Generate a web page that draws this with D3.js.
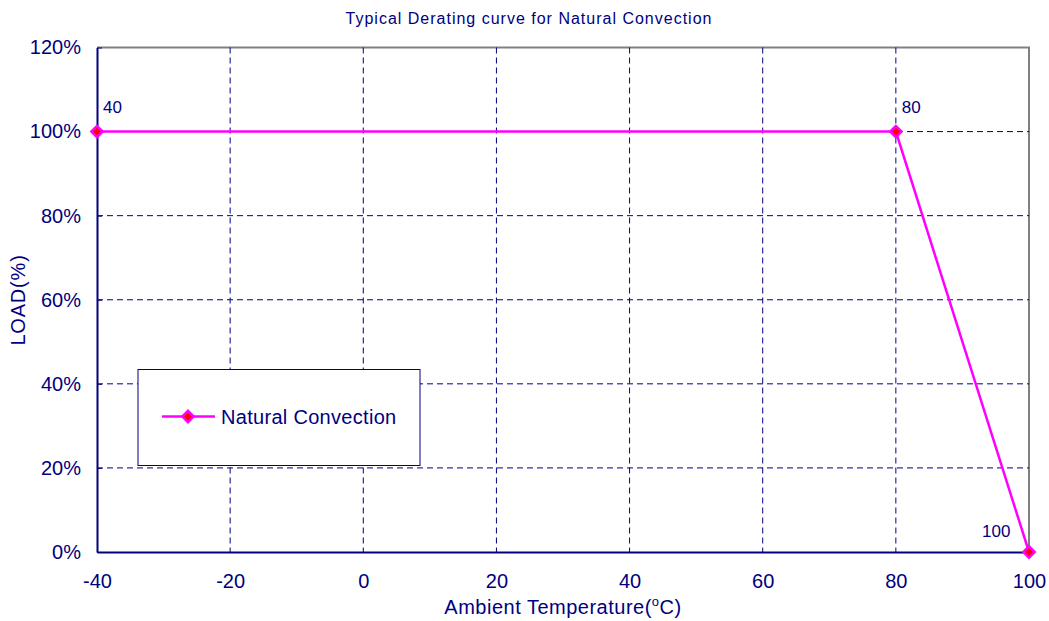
<!DOCTYPE html>
<html>
<head>
<meta charset="utf-8">
<script src="https://cdn.jsdelivr.net/npm/d3@7"></script>
<style>
  body { margin: 0; background: #fff; }
  text { font-family: "Liberation Sans", Arial, sans-serif; fill: #000080; }
</style>
</head>
<body>
<div id="chart"></div>
<script>
// data
const temps = [-40, 80, 100];
const loads = [100, 100, 0];
const pointLabels = ['40', '80', '100'];
const xTicks = [-40, -20, 0, 20, 40, 60, 80, 100];
const yTicks = [0, 20, 40, 60, 80, 100, 120];
const seriesName = 'Natural Convection';

const width = 1049, height = 621;
const margin = { top: 47.5, right: 20, bottom: 69, left: 97 };

const svg = d3.select('#chart').append('svg')
  .attr('width', width)
  .attr('height', height);

const x = d3.scaleLinear().domain([-40, 100]).range([margin.left, width - margin.right]);
const y = d3.scaleLinear().domain([0, 120]).range([height - margin.bottom, margin.top]);

// frame: top/right grey
svg.append('path')
  .attr('d', `M${x(-40)},${y(120)}H${x(100)}V${y(0)}`)
  .attr('fill', 'none')
  .attr('stroke', '#808080')
  .attr('stroke-width', 2);

// grid lines
const grid = svg.append('g').attr('class', 'grid');
grid.selectAll('.vg').data(xTicks.slice(1, -1)).join('line')
  .attr('x1', d => x(d)).attr('x2', d => x(d))
  .attr('y1', y(120)).attr('y2', y(0))
  .attr('stroke', '#000080').attr('stroke-width', 1)
  .attr('stroke-dasharray', '6,4');
grid.selectAll('.hg').data(yTicks.slice(1, -1)).join('line')
  .attr('x1', x(-40)).attr('x2', x(100))
  .attr('y1', d => y(d)).attr('y2', d => y(d))
  .attr('stroke', '#000080').attr('stroke-width', 1)
  .attr('stroke-dasharray', '6,4');

// axes
const xAxis = svg.append('g')
  .attr('transform', `translate(0,${y(0)})`)
  .call(d3.axisBottom(x).tickValues(xTicks).tickSize(0).tickPadding(22).tickFormat(d => String(d)));
const yAxis = svg.append('g')
  .attr('transform', `translate(${x(-40)},0)`)
  .call(d3.axisLeft(y).tickValues(yTicks).tickSize(0).tickPadding(16).tickFormat(d => d + '%'));
[xAxis, yAxis].forEach(a => {
  a.select('.domain').attr('stroke', '#000080').attr('stroke-width', 2);
  a.selectAll('text')
    .attr('font-size', 20)
    .attr('font-family', '"Liberation Sans", Arial, sans-serif')
    .attr('fill', '#000080');
});

// small tick marks on the left axis
yAxis.selectAll('.tick').append('line')
  .attr('x1', 0).attr('x2', 5).attr('stroke', '#000080').attr('stroke-width', 1);

// series line
const line = d3.line().x((d, i) => x(temps[i])).y(d => y(d));
svg.append('path')
  .datum(loads)
  .attr('d', line)
  .attr('fill', 'none')
  .attr('stroke', '#FF00FF')
  .attr('stroke-width', 2.5);

// markers (square turned 45 degrees)
const diamond = d3.symbol().type(d3.symbolSquare).size(64);
svg.selectAll('.marker').data(loads).join('path')
  .attr('class', 'marker')
  .attr('transform', (d, i) => `translate(${x(temps[i])},${y(d)}) rotate(45)`)
  .attr('d', diamond)
  .attr('fill', '#FF0000')
  .attr('stroke', '#FF00FF')
  .attr('stroke-width', 2.5);

// data labels
const labelOffsets = [[6, -19], [6, -19], [-47, -15]];
svg.selectAll('.plabel').data(pointLabels).join('text')
  .attr('x', (d, i) => x(temps[i]) + labelOffsets[i][0])
  .attr('y', (d, i) => y(loads[i]) + labelOffsets[i][1])
  .attr('font-size', 17)
  .text(d => d);

// title
svg.append('text')
  .attr('x', 529).attr('y', 24)
  .attr('text-anchor', 'middle')
  .attr('font-size', 16)
  .attr('letter-spacing', 1)
  .text('Typical Derating curve for Natural Convection');

// axis titles
const xt = svg.append('text')
  .attr('x', 563).attr('y', 614)
  .attr('text-anchor', 'middle')
  .attr('font-size', 20)
  .attr('letter-spacing', 0.5);
xt.append('tspan').text('Ambient Temperature(');
xt.append('tspan').attr('dy', -8).attr('font-size', 13).text('o');
xt.append('tspan').attr('dy', 8).text('C)');

svg.append('text')
  .attr('transform', 'translate(25,300) rotate(-90)')
  .attr('text-anchor', 'middle')
  .attr('font-size', 20)
  .attr('letter-spacing', 0.8)
  .text('LOAD(%)');

// legend
const legend = svg.append('g').attr('transform', 'translate(138,369.5)');
legend.append('rect')
  .attr('width', 282).attr('height', 96)
  .attr('fill', '#fff')
  .attr('stroke', '#000080').attr('stroke-width', 1);
legend.append('line')
  .attr('x1', 24).attr('x2', 77).attr('y1', 47).attr('y2', 47)
  .attr('stroke', '#FF00FF').attr('stroke-width', 2.5);
legend.append('path')
  .attr('transform', 'translate(50,47) rotate(45)')
  .attr('d', diamond)
  .attr('fill', '#FF0000')
  .attr('stroke', '#FF00FF')
  .attr('stroke-width', 2.5);
legend.append('text')
  .attr('x', 83).attr('y', 54)
  .attr('font-size', 20)
  .attr('letter-spacing', 0.3)
  .text(seriesName);
</script>
</body>
</html>
